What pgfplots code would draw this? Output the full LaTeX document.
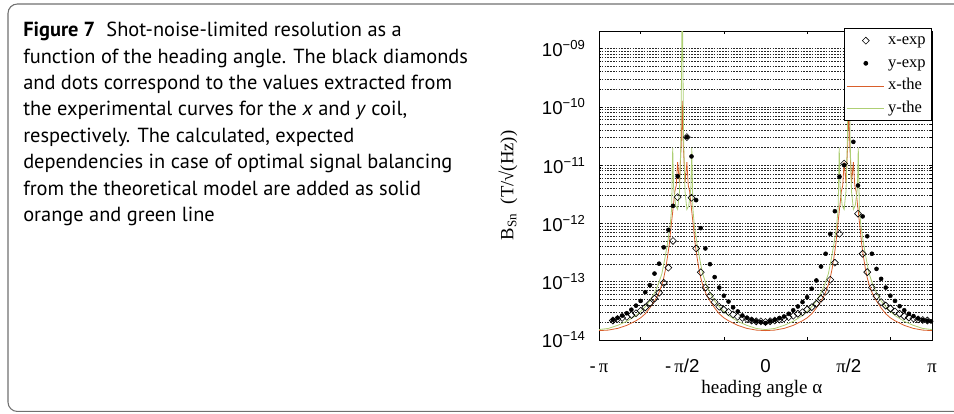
\documentclass[border=0pt]{standalone}
\usepackage{fontspec}
\setmainfont{Liberation Serif}
\newfontfamily\capfont{PT Sans}
\newfontfamily\arialfont{Liberation Sans}
\usepackage{pgfplots}
\pgfplotsset{compat=1.18}
\definecolor{theox}{HTML}{D95F2B}
\definecolor{theoy}{HTML}{AECF74}
\definecolor{framegray}{HTML}{707070}
\begin{document}
\begin{tikzpicture}
\path[use as bounding box] (0,0) rectangle (715.5pt,310.5pt);
\clip (0,0) rectangle (715.5pt,310.5pt);
\draw[framegray, line width=0.8pt, rounded corners=7pt] (730pt,307.5pt) -- (6pt,307.5pt) -- (6pt,1.9pt) -- (730pt,1.9pt);
\begin{scope}[every node/.style={anchor=base west, inner sep=0pt, font=\capfont\fontsize{15.3}{17}\selectfont}]
\node at (17.25pt,282.98pt) {\textbf{Figure 7}\hspace{0.55em}Shot-noise-limited resolution as a};
\node at (17.25pt,263.15pt) {function of the heading angle. The black diamonds};
\node at (17.25pt,243.33pt) {and dots correspond to the values extracted from};
\node at (17.25pt,223.51pt) {the experimental curves for the \textit{x} and \textit{y} coil,};
\node at (17.25pt,203.69pt) {respectively. The calculated, expected};
\node at (17.25pt,183.86pt) {dependencies in case of optimal signal balancing};
\node at (17.25pt,164.04pt) {from the theoretical model are added as solid};
\node at (17.25pt,144.22pt) {orange and green line};
\end{scope}
\begin{axis}[
  at={(449.25pt,55.5pt)}, anchor=south west,
  scale only axis, width=249.75pt, height=231.75pt,
  xmin=-180, xmax=180,
  ymode=log, ymin=1e-14, ymax=2e-9,
  axis line style={black, line width=0.6pt},
  tick style={black, line width=0.5pt},
  major tick length=2.3pt, minor tick length=1.3pt,
  tick align=inside,
  xtick={-135,-45,45,135}, xticklabels={},
  extra x ticks={-180,-90,0,90,180},
  extra x tick labels={-\,{\rmfamily π}, -\,{\rmfamily π}/2, 0, {\rmfamily π}/2, {\rmfamily π}},
  extra x tick style={major tick length=0pt},
  xticklabel style={font=\arialfont\fontsize{14}{16}\selectfont, text height=10pt, text depth=3pt, yshift=-10.5pt},
  ytick={1e-14,1e-13,1e-12,1e-11,1e-10,1e-9},
  yticklabels={10\textsuperscript{−14},10\textsuperscript{−13},10\textsuperscript{−12},10\textsuperscript{−11},10\textsuperscript{−10},10\textsuperscript{−09}},
  minor ytick={2e-14,3e-14,4e-14,5e-14,6e-14,7e-14,8e-14,9e-14,
               2e-13,3e-13,4e-13,5e-13,6e-13,7e-13,8e-13,9e-13,
               2e-12,3e-12,4e-12,5e-12,6e-12,7e-12,8e-12,9e-12,
               2e-11,3e-11,4e-11,5e-11,6e-11,7e-11,8e-11,9e-11,
               2e-10,3e-10,4e-10,5e-10,6e-10,7e-10,8e-10,9e-10,2e-9},
  yticklabel style={font=\arialfont\fontsize{14}{16}\selectfont, xshift=-6.6pt},
  ymajorgrids=true, yminorgrids=true,
  major grid style={black!85, line width=0.45pt, dash pattern=on 1.2pt off 0.9pt},
  minor grid style={black!85, line width=0.45pt, dash pattern=on 1.2pt off 0.9pt},
  xlabel={heading angle α},
  xlabel style={font=\rmfamily\fontsize{14.3}{16}\selectfont, at={(axis description cs:0.489,-0.159)}, anchor=center},
  ylabel={B\textsubscript{Sn}\ \ (T/√(Hz))},
  ylabel style={font=\rmfamily\fontsize{14}{16}\selectfont, at={(axis description cs:-0.273,0.5)}, anchor=center},
  legend style={at={(axis description cs:1,1.0087)}, anchor=north east, draw=black, line width=0.5pt, fill=white,
    font=\rmfamily\fontsize{12.4}{14}\selectfont, inner xsep=2pt, inner ysep=1pt, row sep=1pt,
    nodes={inner sep=2.5pt, text height=8.5pt, text depth=2.5pt}},
  legend cell align=left,
  legend image code/.code={\draw[mark repeat=2,mark phase=2,#1] plot coordinates {(0pt,0pt) (13.9pt,0pt) (27.75pt,0pt)};},
]
% x-exp (diamonds)
\addplot[only marks, mark=square, mark size=1.85pt, mark options={rotate=45, black, line width=0.45pt}] coordinates {
(-165,2.16e-14) (-160,2.29e-14) (-155,2.40e-14) (-150,2.51e-14) (-145,2.69e-14) (-140,2.88e-14)
(-135,3.16e-14) (-130,3.63e-14) (-125,4.27e-14) (-120,5.13e-14) (-115,6.46e-14) (-110,9.55e-14)
(-105,1.74e-13) (-100,5.01e-13) (-95,2.82e-12) (-85,3.02e-11) (-80,2.75e-12) (-75,3.72e-13)
(-70,1.45e-13) (-65,7.94e-14) (-60,5.75e-14) (-55,4.47e-14) (-50,3.72e-14) (-45,3.31e-14)
(-40,3.02e-14) (-35,2.75e-14) (-30,2.51e-14) (-25,2.40e-14) (-20,2.29e-14) (-15,2.16e-14)
(-10,2.09e-14) (-5,2.09e-14) (0,2.04e-14) (5,2.10e-14) (10,2.16e-14) (15,2.25e-14)
(20,2.34e-14) (25,2.47e-14) (30,2.60e-14) (35,2.82e-14) (40,3.00e-14) (45,3.34e-14)
(50,3.66e-14) (55,4.19e-14) (60,5.13e-14) (65,6.76e-14) (70,1.08e-13) (75,2.12e-13)
(80,6.65e-13) (85,1.06e-11) (100,1.47e-12) (105,3.02e-13) (110,1.46e-13) (115,7.94e-14)
(120,5.62e-14) (125,4.47e-14) (130,3.89e-14) (135,3.47e-14) (140,3.09e-14) (145,2.82e-14)
(150,2.57e-14) (155,2.43e-14) (160,2.34e-14) (165,2.26e-14) (170,2.21e-14) (175,2.16e-14)
};
\addlegendentry{x-exp}
% y-exp (dots)
\addplot[only marks, mark=*, mark size=1.5pt, black] coordinates {
(-165,2.21e-14) (-160,2.40e-14) (-155,2.63e-14) (-150,2.88e-14) (-145,3.31e-14) (-140,3.89e-14)
(-135,4.68e-14) (-130,6.61e-14) (-125,8.71e-14) (-120,1.38e-13) (-115,2.04e-13) (-110,3.89e-13)
(-105,7.76e-13) (-100,2.00e-12) (-95,6.46e-12) (-85,3.02e-11) (-80,1.41e-11) (-75,2.51e-12)
(-70,8.32e-13) (-65,3.72e-13) (-60,2.00e-13) (-55,1.20e-13) (-50,7.94e-14) (-45,5.75e-14)
(-40,4.57e-14) (-35,3.63e-14) (-30,3.09e-14) (-25,2.63e-14) (-20,2.40e-14) (-15,2.24e-14)
(-10,2.09e-14) (-5,2.04e-14) (0,1.95e-14) (5,2.09e-14) (10,2.22e-14) (15,2.37e-14)
(20,2.53e-14) (25,2.82e-14) (30,3.24e-14) (35,3.76e-14) (40,4.47e-14) (45,5.43e-14)
(50,7.59e-14) (55,1.05e-13) (60,1.82e-13) (65,3.02e-13) (70,6.61e-13) (75,1.62e-12)
(80,6.31e-12) (85,1.00e-11) (95,2.51e-11) (100,4.47e-12) (105,1.32e-12) (110,6.03e-13)
(115,3.02e-13) (120,1.66e-13) (125,1.12e-13) (130,7.94e-14) (135,5.75e-14) (140,4.68e-14)
(145,3.80e-14) (150,3.24e-14) (155,2.82e-14) (160,2.57e-14) (165,2.34e-14) (170,2.21e-14)
(175,2.14e-14) (179,2.09e-14)
};
\addlegendentry{y-exp}
% x-the
\addplot[theox, line width=0.6pt, no marks] coordinates {
(-180,1.45e-14) (-170,1.48e-14) (-160,1.58e-14) (-150,1.78e-14) (-140,2.14e-14) (-135,2.40e-14)
(-130,2.82e-14) (-125,3.55e-14) (-120,4.68e-14) (-116,6.03e-14) (-112,8.91e-14) (-110,1.17e-13)
(-108,1.66e-13) (-106,2.63e-13) (-104,4.37e-13) (-102.5,7.59e-13) (-101,1.26e-12) (-99.5,2.09e-12)
(-98,3.55e-12) (-96.5,4.47e-12) (-95,1.12e-11) (-93,5.01e-12) (-91,2.51e-11) (-90,1.26e-10)
(-89,2.51e-11) (-87,5.01e-12) (-85,1.12e-11) (-83.5,4.47e-12) (-82,3.55e-12) (-80.5,2.09e-12)
(-79,1.26e-12) (-77.5,7.59e-13) (-76,4.37e-13) (-74,2.63e-13) (-72,1.66e-13) (-70,1.17e-13)
(-68,8.91e-14) (-64,6.03e-14) (-60,4.68e-14) (-55,3.55e-14) (-50,2.82e-14) (-45,2.40e-14)
(-40,2.14e-14) (-30,1.78e-14) (-20,1.58e-14) (-10,1.48e-14) (0,1.45e-14) (10,1.48e-14)
(20,1.58e-14) (30,1.78e-14) (40,2.14e-14) (45,2.40e-14) (50,2.82e-14) (55,3.55e-14)
(60,4.68e-14) (64,6.03e-14) (68,8.91e-14) (70,1.17e-13) (72,1.66e-13) (74,2.63e-13)
(76,4.37e-13) (77.5,7.59e-13) (79,1.26e-12) (80.5,2.09e-12) (82,3.55e-12) (83.5,4.47e-12)
(85,1.12e-11) (87,5.01e-12) (89,2.51e-11) (90,1.26e-10) (91,2.51e-11) (93,5.01e-12)
(95,1.12e-11) (96.5,4.47e-12) (98,3.55e-12) (99.5,2.09e-12) (101,1.26e-12) (102.5,7.59e-13)
(104,4.37e-13) (106,2.63e-13) (108,1.66e-13) (110,1.17e-13) (112,8.91e-14) (116,6.03e-14)
(120,4.68e-14) (125,3.55e-14) (130,2.82e-14) (135,2.40e-14) (140,2.14e-14) (150,1.78e-14)
(160,1.58e-14) (170,1.48e-14) (180,1.45e-14)
};
\addlegendentry{x-the}
% y-the
\addplot[theoy, line width=0.6pt, no marks] coordinates {
(-180,1.51e-14) (-170,1.58e-14) (-160,1.78e-14) (-150,2.09e-14) (-140,2.63e-14) (-135,3.09e-14)
(-130,3.72e-14) (-125,4.68e-14) (-120,6.46e-14) (-116,8.91e-14) (-112,1.38e-13) (-109,2.40e-13)
(-106,4.47e-13) (-103,9.55e-13) (-101.5,1.78e-12) (-100.3,2.00e-11) (-99.3,3.98e-12) (-97,2.00e-12)
(-95,1.74e-12) (-93,3.55e-12) (-91.5,2.51e-11) (-90,1e-8) (-88.5,2.51e-11) (-87,3.55e-12)
(-85,1.74e-12) (-83,2.00e-12) (-80.7,3.98e-12) (-79.7,2.00e-11) (-78.5,1.78e-12) (-77,9.55e-13)
(-74,4.47e-13) (-71,2.40e-13) (-68,1.38e-13) (-64,8.91e-14) (-60,6.46e-14) (-55,4.68e-14)
(-50,3.72e-14) (-45,3.09e-14) (-40,2.63e-14) (-30,2.09e-14) (-20,1.78e-14) (-10,1.58e-14)
(0,1.51e-14) (10,1.58e-14) (20,1.78e-14) (30,2.09e-14) (40,2.63e-14) (45,3.09e-14)
(50,3.72e-14) (55,4.68e-14) (60,6.46e-14) (64,8.91e-14) (68,1.38e-13) (71,2.40e-13)
(74,4.47e-13) (77,9.55e-13) (78.5,1.78e-12) (79.7,2.00e-11) (80.7,3.98e-12) (83,2.00e-12)
(85,1.74e-12) (87,3.55e-12) (88.5,2.51e-11) (90,1e-8) (91.5,2.51e-11) (93,3.55e-12)
(95,1.74e-12) (97,2.00e-12) (99.3,3.98e-12) (100.3,2.00e-11) (101.5,1.78e-12) (103,9.55e-13)
(106,4.47e-13) (109,2.40e-13) (112,1.38e-13) (116,8.91e-14) (120,6.46e-14) (125,4.68e-14)
(130,3.72e-14) (135,3.09e-14) (140,2.63e-14) (150,2.09e-14) (160,1.78e-14) (170,1.58e-14)
(180,1.51e-14)
};
\addlegendentry{y-the}
\end{axis}
\end{tikzpicture}
\end{document}
